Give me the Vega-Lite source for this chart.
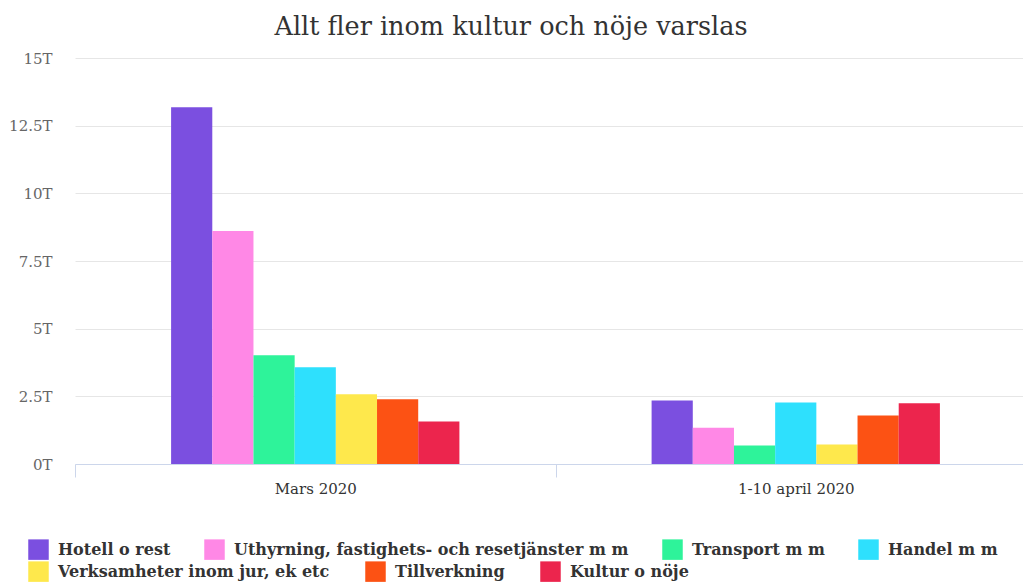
{
  "$schema": "https://vega.github.io/schema/vega-lite/v6.json",
  "width": 948,
  "height": 406,
  "autosize": "none",
  "padding": {"left": 75, "top": 58, "right": 0, "bottom": 118},
  "title": {
    "text": "Allt fler inom kultur och nöje varslas",
    "font": "DejaVu Serif",
    "fontSize": 25.5,
    "fontWeight": "normal",
    "color": "#333333",
    "anchor": "middle",
    "dx": -38,
    "offset": 11
  },
  "config": {
    "view": {"stroke": null},
    "font": "DejaVu Serif"
  },
  "data": {
    "values": [
      {"period": "Mars 2020", "sektor": "Hotell o rest", "varsel": 13180},
      {"period": "Mars 2020", "sektor": "Uthyrning, fastighets- och resetjänster m m", "varsel": 8610},
      {"period": "Mars 2020", "sektor": "Transport m m", "varsel": 4020},
      {"period": "Mars 2020", "sektor": "Handel m m", "varsel": 3570},
      {"period": "Mars 2020", "sektor": "Verksamheter inom jur, ek etc", "varsel": 2580},
      {"period": "Mars 2020", "sektor": "Tillverkning", "varsel": 2390},
      {"period": "Mars 2020", "sektor": "Kultur o nöje", "varsel": 1570},
      {"period": "1-10 april 2020", "sektor": "Hotell o rest", "varsel": 2350},
      {"period": "1-10 april 2020", "sektor": "Uthyrning, fastighets- och resetjänster m m", "varsel": 1340},
      {"period": "1-10 april 2020", "sektor": "Transport m m", "varsel": 680},
      {"period": "1-10 april 2020", "sektor": "Handel m m", "varsel": 2270},
      {"period": "1-10 april 2020", "sektor": "Verksamheter inom jur, ek etc", "varsel": 720},
      {"period": "1-10 april 2020", "sektor": "Tillverkning", "varsel": 1790},
      {"period": "1-10 april 2020", "sektor": "Kultur o nöje", "varsel": 2240}
    ]
  },
  "encoding": {
    "x": {
      "field": "period",
      "type": "nominal",
      "sort": null,
      "scale": {"domain": ["Mars 2020", "1-10 april 2020"], "range": [0, 961], "paddingInner": 0.4, "paddingOuter": 0.2},
      "axis": {
        "title": null,
        "labelAngle": 0,
        "domainColor": "#ccd6eb",
        "tickColor": "#ccd6eb",
        "tickSize": 13,
        "tickOffset": -240,
        "labelOffset": 240,
        "labelColor": "#333333",
        "labelFont": "DejaVu Serif",
        "labelFontSize": 15,
        "labelPadding": 4,
        "grid": false
      }
    },
    "xOffset": {
      "field": "sektor",
      "type": "nominal",
      "scale": {
        "domain": ["Hotell o rest", "Uthyrning, fastighets- och resetjänster m m", "Transport m m", "Handel m m", "Verksamheter inom jur, ek etc", "Tillverkning", "Kultur o nöje"],
        "paddingInner": 0,
        "paddingOuter": 0
      }
    },
    "y": {
      "field": "varsel",
      "type": "quantitative",
      "scale": {"domain": [0, 15000], "nice": false},
      "axis": {
        "title": null,
        "domain": false,
        "ticks": false,
        "values": [0, 2500, 5000, 7500, 10000, 12500, 15000],
        "labelExpr": "(datum.value / 1000) + 'T'",
        "labelColor": "#666666",
        "labelFont": "DejaVu Serif",
        "labelFontSize": 15,
        "labelPadding": 23,
        "gridColor": "#e6e6e6"
      }
    }
  },
  "layer": [
    {
      "transform": [{"filter": {"field": "sektor", "oneOf": ["Hotell o rest", "Uthyrning, fastighets- och resetjänster m m", "Transport m m", "Handel m m"]}}],
      "mark": {"type": "bar"},
      "encoding": {
        "color": {
          "field": "sektor",
          "type": "nominal",
          "scale": {
            "domain": ["Hotell o rest", "Uthyrning, fastighets- och resetjänster m m", "Transport m m", "Handel m m"],
            "range": ["#7b4fe0", "#ff88e6", "#2ef39a", "#2ee0fd"]
          },
          "legend": {
            "title": null,
            "orient": "none",
            "direction": "horizontal",
            "legendX": -47,
            "legendY": 481,
            "padding": 0,
            "symbolType": "square",
            "symbolSize": 420,
            "symbolStrokeWidth": 0,
            "symbolOpacity": 1,
            "labelFont": "DejaVu Serif",
            "labelFontSize": 16,
            "labelFontWeight": "bold",
            "labelColor": "#333333",
            "labelOffset": 9,
            "columnPadding": 33,
            "labelLimit": 500
          }
        }
      }
    },
    {
      "transform": [{"filter": {"field": "sektor", "oneOf": ["Verksamheter inom jur, ek etc", "Tillverkning", "Kultur o nöje"]}}],
      "mark": {"type": "bar"},
      "encoding": {
        "color": {
          "field": "sektor",
          "type": "nominal",
          "scale": {
            "domain": ["Verksamheter inom jur, ek etc", "Tillverkning", "Kultur o nöje"],
            "range": ["#fee84c", "#fc5214", "#ec254d"]
          },
          "legend": {
            "title": null,
            "orient": "none",
            "direction": "horizontal",
            "legendX": -47,
            "legendY": 503,
            "padding": 0,
            "symbolType": "square",
            "symbolSize": 420,
            "symbolStrokeWidth": 0,
            "symbolOpacity": 1,
            "labelFont": "DejaVu Serif",
            "labelFontSize": 16,
            "labelFontWeight": "bold",
            "labelColor": "#333333",
            "labelOffset": 9,
            "columnPadding": 35,
            "labelLimit": 500
          }
        }
      }
    }
  ],
  "resolve": {"scale": {"color": "independent"}, "legend": {"color": "independent"}}
}
